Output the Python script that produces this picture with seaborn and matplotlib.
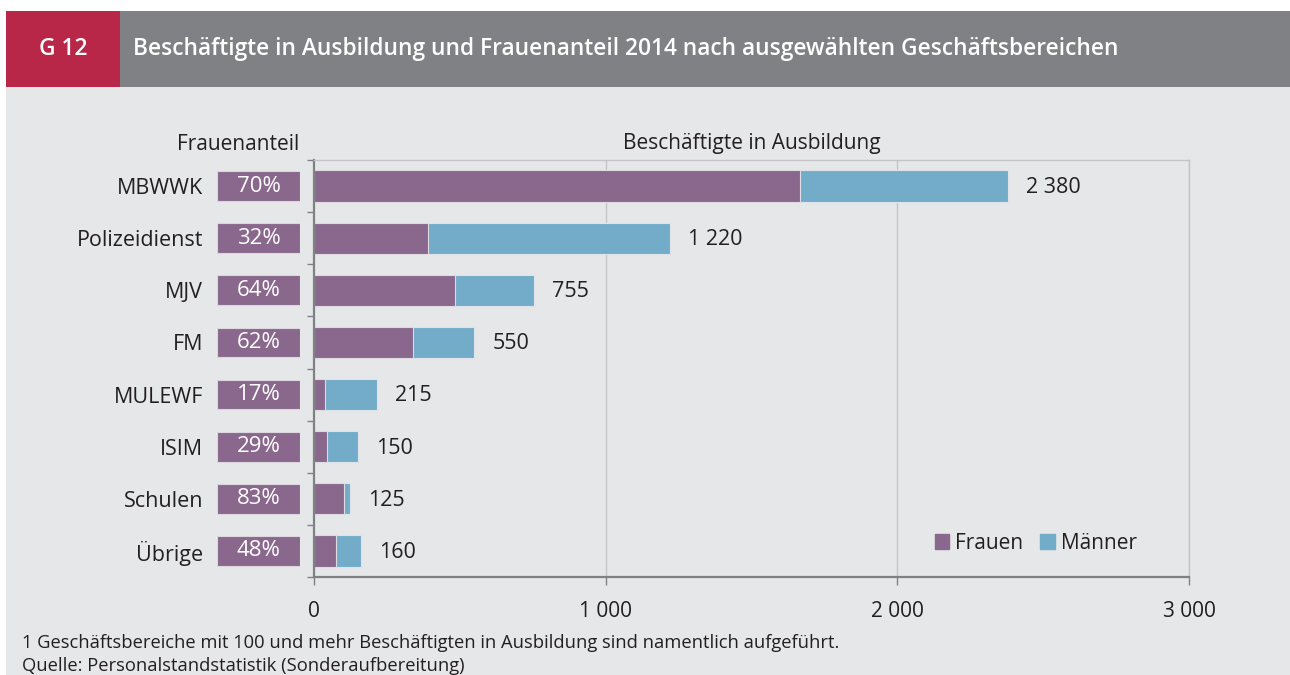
import matplotlib
matplotlib.use("Agg")
import matplotlib.pyplot as plt
from matplotlib.patches import Rectangle, Patch
import pandas as pd
import seaborn as sns

bereiche = ["MBWWK", "Polizeidienst", "MJV", "FM", "MULEWF", "ISIM", "Schulen", "Übrige"]
gesamt = [2380, 1220, 755, 550, 215, 150, 125, 160]
frauen = [1666, 390, 483, 341, 37, 44, 104, 77]
anteil = ["70%", "32%", "64%", "62%", "17%", "29%", "83%", "48%"]
x_ticks = [0, 1000, 2000, 3000]
x_ticklabels = ["0", "1 000", "2 000", "3 000"]

PURPLE = "#8a678c"
BLUE = "#72acc8"
DARK = "#231f20"
BG = "#e6e7e9"

df = pd.DataFrame({"bereich": bereiche, "gesamt": gesamt, "frauen": frauen, "box": [1] * len(bereiche)})

sns.set_theme(style="white")
plt.rcParams["font.family"] = ["Open Sans", "DejaVu Sans"]

W, H = 1290, 675
fig = plt.figure(figsize=(W / 100, H / 100), dpi=100)
fig.patch.set_facecolor("white")

def fx(px):
    return px / W

def fy(py):
    return 1 - py / H

# panel + header
fig.patches.append(Rectangle((fx(6), 0), fx(W - 6), fy(11), transform=fig.transFigure,
                             facecolor=BG, edgecolor="none", zorder=-10))
fig.patches.append(Rectangle((fx(6), fy(87)), fx(114), (87 - 11) / H, transform=fig.transFigure,
                             facecolor="#b82748", edgecolor="none", zorder=-5))
fig.patches.append(Rectangle((fx(120), fy(87)), fx(W - 120), (87 - 11) / H, transform=fig.transFigure,
                             facecolor="#808184", edgecolor="none", zorder=-5))
fig.text(fx(63), fy(49), "G 12", color="white", fontsize=16.4, fontweight="semibold",
         ha="center", va="center")
fig.text(fx(133), fy(49), "Beschäftigte in Ausbildung und Frauenanteil 2014 nach ausgewählten Geschäftsbereichen",
         color="white", fontsize=16.4, fontweight="semibold", ha="left", va="center")

# main chart
ax = fig.add_axes([fx(314), fy(577), fx(1189 - 314), (577 - 160) / H])
ax.set_facecolor(BG)
sns.barplot(df, y="bereich", x="gesamt", color=BLUE, width=0.6, ax=ax,
            edgecolor="#dfe3ea", linewidth=0.8, saturation=1)
sns.barplot(df, y="bereich", x="frauen", color=PURPLE, width=0.6, ax=ax,
            edgecolor="#dfdbe3", linewidth=0.8, saturation=1)
for i, v in enumerate(gesamt):
    ax.annotate(f"{v:,}".replace(",", " "), (v, i), xytext=(13, -1), textcoords="offset points",
                va="center", ha="left", fontsize=15.5, color=DARK)

ax.set_xlim(0, 3000)
ax.set_ylim(len(bereiche) - 0.5, -0.5)
ax.set_xticks(x_ticks)
ax.set_xticklabels(x_ticklabels)
ax.set_yticks([i - 0.5 for i in range(len(bereiche) + 1)])
ax.set_yticklabels([])
ax.set_xlabel("")
ax.set_ylabel("")
for x in x_ticks[1:]:
    ax.axvline(x, color="#c4c4c6", lw=1, zorder=0)
for s in ["top", "right"]:
    ax.spines[s].set_color("#c4c4c6")
    ax.spines[s].set_linewidth(1)
for s in ["left", "bottom"]:
    ax.spines[s].set_color("#808184")
    ax.spines[s].set_linewidth(1.6)
ax.tick_params(axis="x", bottom=True, direction="out", length=6, width=1, color="#808184",
               labelsize=15, labelcolor=DARK, pad=11)
ax.tick_params(axis="y", left=True, direction="out", length=5, width=1, color="#808184")
ax.set_title("Beschäftigte in Ausbildung", fontsize=15, color=DARK, pad=8)
ax.legend(handles=[Patch(color=PURPLE, label="Frauen"), Patch(color=BLUE, label="Männer")],
          loc="lower right", bbox_to_anchor=(0.962, 0.01), ncol=2, frameon=False, fontsize=15,
          handlelength=0.7, handleheight=0.7, handletextpad=0.3, columnspacing=0.8,
          labelcolor=DARK)

# share boxes
ax2 = fig.add_axes([fx(217), fy(577), fx(300 - 217), (577 - 160) / H])
ax2.set_facecolor("none")
sns.barplot(df, y="bereich", x="box", color=PURPLE, width=0.57, ax=ax2,
            edgecolor="#dcd6df", linewidth=0.8, saturation=1)
for i, t in enumerate(anteil):
    ax2.text(0.5, i, t, ha="center", va="center", color="white", fontsize=16)
ax2.set_xlim(0, 1)
ax2.set_ylim(len(bereiche) - 0.5, -0.5)
ax2.set_xticks([])
ax2.set_xlabel("")
ax2.set_ylabel("")
for s in ax2.spines.values():
    s.set_visible(False)
ax2.tick_params(axis="y", length=0, pad=10, labelsize=15.5, labelcolor=DARK)

fig.text(fx(238), fy(144), "Frauenanteil", ha="center", va="center", fontsize=15, color=DARK)

fig.text(fx(22), fy(643), "1 Geschäftsbereiche mit 100 und mehr Beschäftigten in Ausbildung sind namentlich aufgeführt.",
         ha="left", va="center", fontsize=13.2, color=DARK)
fig.text(fx(22), fy(666), "Quelle: Personalstandstatistik (Sonderaufbereitung)",
         ha="left", va="center", fontsize=13.2, color=DARK)

fig.savefig("out.png", dpi=100, facecolor=fig.get_facecolor())
